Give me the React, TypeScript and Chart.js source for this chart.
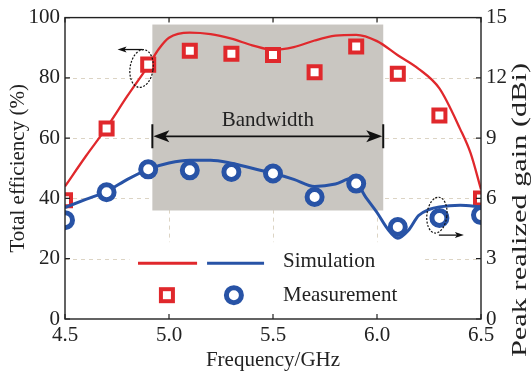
import { useEffect, useRef } from "react";
import { Chart, registerables } from "chart.js";

Chart.register(...registerables);

// Measured points (every 0.2 GHz)
const measFreq = [4.5, 4.7, 4.9, 5.1, 5.3, 5.5, 5.7, 5.9, 6.1, 6.3, 6.5];
const measEfficiency = [39.4, 63.2, 84.4, 89, 88, 87.6, 81.9, 90.4, 81.4, 67.5, 40];
const measGain = [4.92, 6.31, 7.45, 7.4, 7.32, 7.24, 6.07, 6.74, 4.58, 5.03, 5.17];

// Simulated total efficiency (%)
const simEffFreq = [4.5, 4.6, 4.7, 4.8, 4.9, 4.95, 5.0, 5.1, 5.2, 5.3, 5.4, 5.5, 5.6, 5.7, 5.8, 5.9, 6.0, 6.1, 6.2, 6.3, 6.4, 6.45, 6.5];
const simEfficiency = [44, 54, 63.5, 74, 84, 89.5, 93.3, 95, 94.5, 93, 90.8, 89.3, 90.2, 92.4, 94, 94.3, 92.2, 87.5, 83, 76.5, 63, 55, 43];

// Simulated peak realized gain (dBi)
const simGainFreq = [4.5, 4.6, 4.7, 4.8, 4.9, 5.0, 5.1, 5.2, 5.3, 5.4, 5.5, 5.6, 5.7, 5.8, 5.88, 5.95, 6.0, 6.05, 6.1, 6.15, 6.2, 6.25, 6.3, 6.4, 6.5];
const simGain = [5.55, 5.95, 6.35, 6.95, 7.45, 7.76, 7.9, 7.9, 7.75, 7.5, 7.25, 6.95, 6.6, 6.72, 7.0, 6.0, 5.3, 4.5, 4.02, 4.4, 5.15, 5.45, 5.58, 5.66, 5.58];

// Axis ranges / ticks
const freqTicks = [4.5, 5.0, 5.5, 6.0, 6.5];
const effTicks = [0, 20, 40, 60, 80, 100];
const gainTicks = [0, 3, 6, 9, 12, 15];

// Operating band
const bandStart = 4.92;
const bandEnd = 6.03;

const RED = "#e0282c";
const BLUE = "#2853a6";
const INK = "#222";
const FONT = "'Liberation Serif', 'DejaVu Serif', serif";

const toXY = (xs: number[], ys: number[]) => xs.map((x, i) => ({ x, y: ys[i] }));

function arrowHead(ctx: CanvasRenderingContext2D, tipX: number, tipY: number, dir: number, len: number, half: number, notch: number) {
  ctx.beginPath();
  ctx.moveTo(tipX, tipY);
  ctx.lineTo(tipX - dir * len, tipY - half);
  ctx.lineTo(tipX - dir * (len - notch), tipY);
  ctx.lineTo(tipX - dir * len, tipY + half);
  ctx.closePath();
  ctx.fill();
}

const decor = {
  id: "decor",
  beforeDatasetsDraw(chart: any) {
    const { ctx, chartArea: a } = chart;
    const x = chart.scales.x;
    const y = chart.scales.y;
    ctx.save();
    // dashed grid
    ctx.strokeStyle = "#dcd4c4";
    ctx.lineWidth = 1;
    ctx.setLineDash([4, 4]);
    effTicks.slice(1, -1).forEach((v) => {
      const py = Math.round(y.getPixelForValue(v)) + 0.5;
      ctx.beginPath();
      ctx.moveTo(a.left, py);
      ctx.lineTo(a.right, py);
      ctx.stroke();
    });
    freqTicks.slice(1, -1).forEach((v) => {
      const px = Math.round(x.getPixelForValue(v)) + 0.5;
      ctx.beginPath();
      ctx.moveTo(px, a.top);
      ctx.lineTo(px, a.bottom);
      ctx.stroke();
    });
    ctx.setLineDash([]);
    // bandwidth shading
    ctx.fillStyle = "#c9c6c1";
    const bx0 = x.getPixelForValue(bandStart);
    const bx1 = x.getPixelForValue(bandEnd);
    const by0 = y.getPixelForValue(97.7);
    const by1 = y.getPixelForValue(36);
    ctx.fillRect(bx0, by0, bx1 - bx0, by1 - by0);
    // legend background
    ctx.fillStyle = "#fff";
    const lx0 = x.getPixelForValue(4.81);
    const lx1 = x.getPixelForValue(6.23);
    const ly0 = y.getPixelForValue(25.5);
    ctx.fillRect(lx0, ly0, lx1 - lx0, a.bottom - ly0);
    ctx.restore();
  },
  afterDatasetsDraw(chart: any) {
    const { ctx, chartArea: a } = chart;
    const x = chart.scales.x;
    const y = chart.scales.y;
    const y1 = chart.scales.y1;
    ctx.save();

    // frame
    ctx.strokeStyle = INK;
    ctx.lineWidth = 1.4;
    ctx.strokeRect(a.left, a.top, a.right - a.left, a.bottom - a.top);

    // inward tick marks
    const tl = 5;
    ctx.lineWidth = 1.2;
    ctx.beginPath();
    effTicks.forEach((v) => {
      const py = y.getPixelForValue(v);
      ctx.moveTo(a.left, py);
      ctx.lineTo(a.left + tl, py);
    });
    gainTicks.forEach((v) => {
      const py = y1.getPixelForValue(v);
      ctx.moveTo(a.right, py);
      ctx.lineTo(a.right - tl, py);
    });
    freqTicks.forEach((v) => {
      const px = x.getPixelForValue(v);
      ctx.moveTo(px, a.bottom);
      ctx.lineTo(px, a.bottom - tl);
      ctx.moveTo(px, a.top);
      ctx.lineTo(px, a.top + tl);
    });
    ctx.stroke();

    // bandwidth arrow
    const bx0 = x.getPixelForValue(bandStart);
    const bx1 = x.getPixelForValue(bandEnd);
    const ay = y.getPixelForValue(60.6);
    ctx.strokeStyle = "#111";
    ctx.fillStyle = "#111";
    ctx.lineWidth = 1.6;
    ctx.beginPath();
    ctx.moveTo(bx0 + 6, ay);
    ctx.lineTo(bx1 - 6, ay);
    ctx.stroke();
    ctx.lineWidth = 2;
    ctx.beginPath();
    ctx.moveTo(bx0, ay - 12);
    ctx.lineTo(bx0, ay + 12);
    ctx.moveTo(bx1, ay - 12);
    ctx.lineTo(bx1, ay + 12);
    ctx.stroke();
    arrowHead(ctx, bx0 + 1, ay, -1, 16, 6, 4);
    arrowHead(ctx, bx1 - 1, ay, 1, 16, 6, 4);
    ctx.font = `21px ${FONT}`;
    ctx.fillStyle = INK;
    ctx.textAlign = "center";
    ctx.textBaseline = "middle";
    ctx.fillText("Bandwidth", (bx0 + bx1) / 2, y.getPixelForValue(65.7));

    // dotted ellipses with axis pointers
    ctx.strokeStyle = "#111";
    ctx.lineWidth = 1.2;
    ctx.setLineDash([2, 1.5]);
    const e1x = x.getPixelForValue(4.868);
    const e1y = y.getPixelForValue(83.1);
    ctx.beginPath();
    ctx.ellipse(e1x, e1y, 11.5, 19, 0.15, 0, Math.PI * 2);
    ctx.stroke();
    const e2x = x.getPixelForValue(6.288);
    const e2y = y1.getPixelForValue(5.17);
    ctx.beginPath();
    ctx.ellipse(e2x, e2y, 10, 18, 0.12, 0, Math.PI * 2);
    ctx.stroke();
    ctx.setLineDash([]);
    ctx.lineWidth = 1.3;
    ctx.fillStyle = "#111";
    const p1y = e1y - 19;
    ctx.beginPath();
    ctx.moveTo(e1x + 1, p1y);
    ctx.lineTo(e1x - 18, p1y);
    ctx.stroke();
    arrowHead(ctx, e1x - 24, p1y, -1, 9, 3, 2);
    const p2y = e2y + 20;
    ctx.beginPath();
    ctx.moveTo(e2x + 2, p2y);
    ctx.lineTo(e2x + 20, p2y);
    ctx.stroke();
    arrowHead(ctx, e2x + 27, p2y, 1, 9, 3, 2);

    // legend
    const r1 = y.getPixelForValue(18.5);
    const r2 = y.getPixelForValue(7.9);
    ctx.lineWidth = 3;
    ctx.strokeStyle = RED;
    ctx.beginPath();
    ctx.moveTo(x.getPixelForValue(4.851), r1);
    ctx.lineTo(x.getPixelForValue(5.135), r1);
    ctx.stroke();
    ctx.strokeStyle = BLUE;
    ctx.beginPath();
    ctx.moveTo(x.getPixelForValue(5.183), r1);
    ctx.lineTo(x.getPixelForValue(5.457), r1);
    ctx.stroke();
    const sqx = x.getPixelForValue(4.99);
    ctx.fillStyle = "#fff";
    ctx.strokeStyle = RED;
    ctx.lineWidth = 4;
    ctx.fillRect(sqx - 6, r2 - 6, 12, 12);
    ctx.strokeRect(sqx - 6, r2 - 6, 12, 12);
    const cx = x.getPixelForValue(5.312);
    ctx.strokeStyle = BLUE;
    ctx.lineWidth = 5;
    ctx.beginPath();
    ctx.arc(cx, r2, 7.5, 0, Math.PI * 2);
    ctx.fill();
    ctx.stroke();
    ctx.fillStyle = INK;
    ctx.textAlign = "left";
    ctx.textBaseline = "middle";
    ctx.font = `21px ${FONT}`;
    const tx = x.getPixelForValue(5.548);
    ctx.fillText("Simulation", tx, r1 - 2);
    ctx.fillText("Measurement", tx, r2);

    // right axis title, reading bottom-to-top
    const title = "Peak realized gain (dBi)";
    ctx.font = `20px ${FONT}`;
    const w = ctx.measureText(title).width;
    ctx.save();
    ctx.translate(chart.width - 10, 210);
    ctx.rotate(-Math.PI / 2);
    ctx.scale(294 / w, 1);
    ctx.textAlign = "center";
    ctx.fillText(title, 0, 0);
    ctx.restore();

    ctx.restore();
  },
};

export default function App() {
  const ref = useRef<HTMLCanvasElement>(null);
  useEffect(() => {
    const tickFont = { family: FONT, size: 21 };
    const noGrid = { display: false, drawTicks: false };
    const chart = new Chart(ref.current!, {
      type: "line",
      data: {
        datasets: [
          {
            label: "Measured gain",
            data: toXY(measFreq, measGain),
            yAxisID: "y1",
            showLine: false,
            pointStyle: "circle",
            pointRadius: 7.5,
            pointBorderWidth: 5,
            pointBorderColor: BLUE,
            pointBackgroundColor: "#fff",
            order: 0,
            clip: 0,
          },
          {
            label: "Simulated gain",
            data: toXY(simGainFreq, simGain),
            yAxisID: "y1",
            borderColor: BLUE,
            borderWidth: 3,
            pointRadius: 0,
            cubicInterpolationMode: "monotone",
            order: 1,
            clip: 0,
          },
          {
            label: "Measured efficiency",
            data: toXY(measFreq, measEfficiency),
            yAxisID: "y",
            showLine: false,
            pointStyle: "rect",
            pointRadius: 8.5,
            pointBorderWidth: 4,
            pointBorderColor: RED,
            pointBackgroundColor: "#fff",
            order: 2,
            clip: 0,
          },
          {
            label: "Simulated efficiency",
            data: toXY(simEffFreq, simEfficiency),
            yAxisID: "y",
            borderColor: RED,
            borderWidth: 2.3,
            pointRadius: 0,
            cubicInterpolationMode: "monotone",
            order: 3,
            clip: 0,
          },
        ],
      },
      options: {
        animation: false,
        responsive: false,
        devicePixelRatio: 1,
        layout: { padding: { top: 17, left: 0, right: 0, bottom: 0 } },
        plugins: { legend: { display: false }, tooltip: { enabled: false } },
        scales: {
          x: {
            type: "linear",
            min: 4.5,
            max: 6.5,
            afterFit: (s: any) => { s.height = 54; },
            afterBuildTicks: (s: any) => { s.ticks = freqTicks.map((v) => ({ value: v })); },
            ticks: { font: tickFont, color: INK, padding: 4, maxRotation: 0, callback: (v: any) => Number(v).toFixed(1) },
            grid: noGrid,
            border: { display: false },
            title: { display: true, text: "Frequency/GHz", font: tickFont, color: INK, padding: { top: 0, bottom: 0 } },
          },
          y: {
            position: "left",
            min: 0,
            max: 100,
            afterFit: (s: any) => { s.width = 65; },
            afterBuildTicks: (s: any) => { s.ticks = effTicks.map((v) => ({ value: v })); },
            ticks: { font: tickFont, color: INK, padding: 5 },
            grid: noGrid,
            border: { display: false },
            title: { display: true, text: "Total efficiency (%)", font: tickFont, color: INK, padding: { top: 6, bottom: 0 } },
          },
          y1: {
            position: "right",
            min: 0,
            max: 15,
            afterFit: (s: any) => { s.width = 50; },
            afterBuildTicks: (s: any) => { s.ticks = gainTicks.map((v) => ({ value: v })); },
            ticks: { font: tickFont, color: INK, padding: 5 },
            grid: noGrid,
            border: { display: false },
          },
        },
      },
      plugins: [decor],
    } as any);
    return () => chart.destroy();
  }, []);
  return (
    <div style={{ position: "fixed", left: 0, top: 0, width: 531, height: 373, background: "#fff" }}>
      <canvas ref={ref} width={531} height={373} style={{ display: "block" }} />
    </div>
  );
}
